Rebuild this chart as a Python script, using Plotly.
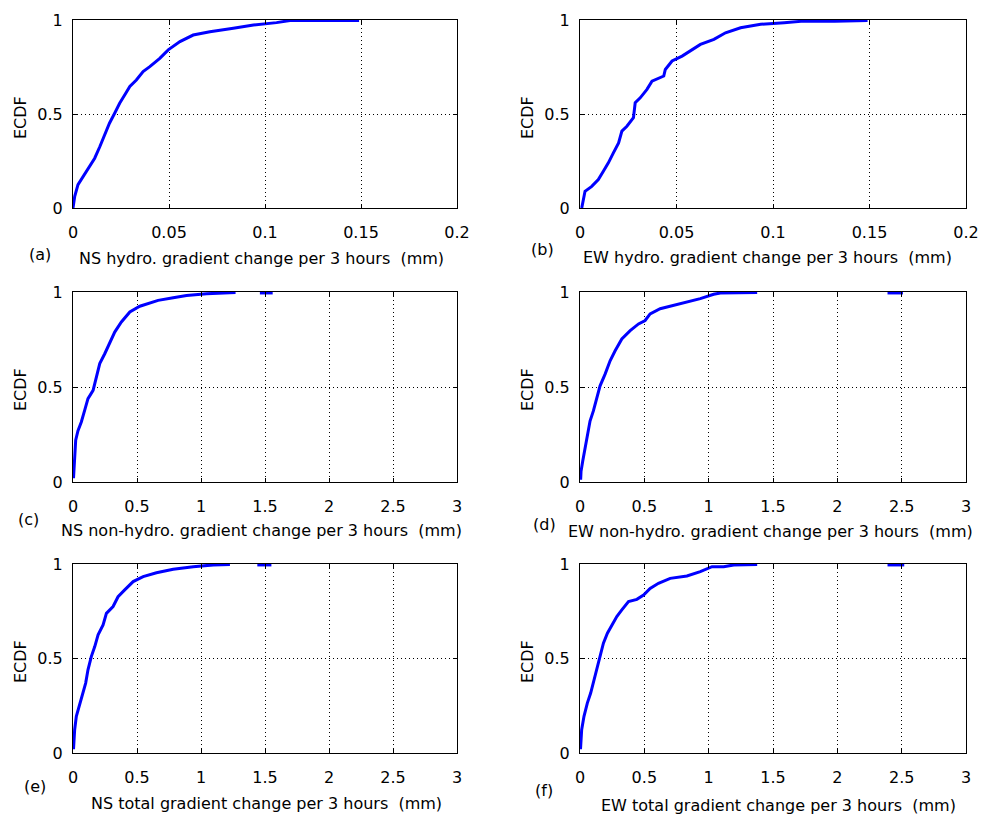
import plotly.graph_objects as go

# ---------------- data ----------------
a_x = [0, 0.0009, 0.0026, 0.0052, 0.0078, 0.0113, 0.014, 0.0165, 0.019, 0.0217, 0.0243, 0.027,
       0.0296, 0.033, 0.0365, 0.04, 0.0452, 0.0496, 0.0557, 0.0626, 0.0713, 0.0835, 0.094, 0.106,
       0.113, 0.122, 0.149]
a_y = [0, 0.062, 0.124, 0.168, 0.212, 0.265, 0.327, 0.389, 0.451, 0.504, 0.557, 0.602,
       0.646, 0.681, 0.726, 0.752, 0.796, 0.841, 0.885, 0.920, 0.938, 0.956, 0.973, 0.986,
       0.997, 0.997, 0.997]

b_x = [0.0009, 0.0017, 0.0026, 0.0061, 0.0095, 0.0121, 0.0147, 0.0173, 0.02, 0.0217, 0.0243,
       0.0277, 0.0286, 0.0312, 0.0347, 0.0373, 0.0434, 0.0442, 0.0477, 0.0529, 0.0581, 0.0624,
       0.0694, 0.0754, 0.0832, 0.0936, 0.1058, 0.1145, 0.132, 0.149]
b_y = [0, 0.044, 0.089, 0.115, 0.151, 0.195, 0.24, 0.293, 0.346, 0.409, 0.435,
       0.48, 0.56, 0.586, 0.631, 0.675, 0.702, 0.737, 0.782, 0.808, 0.844, 0.87,
       0.897, 0.932, 0.959, 0.977, 0.986, 0.993, 0.994, 0.997]

c_x = [0.004, 0.005, 0.013, 0.021, 0.039, 0.065, 0.091, 0.117, 0.157, 0.183, 0.209, 0.248, 0.287,
       0.326, 0.378, 0.444, 0.522, 0.60, 0.665, 0.783, 0.887, 1.044, 1.27, None, 1.46, 1.56]
c_y = [0.02, 0.035, 0.13, 0.22, 0.27, 0.316, 0.377, 0.439, 0.482, 0.553, 0.623, 0.675, 0.737,
       0.789, 0.842, 0.895, 0.925, 0.942, 0.956, 0.97, 0.982, 0.991, 0.997, None, 0.995, 0.995]

d_x = [0.005, 0.008, 0.021, 0.039, 0.057, 0.078, 0.104, 0.13, 0.156, 0.195, 0.234, 0.273, 0.325,
       0.39, 0.455, 0.506, 0.545, 0.623, 0.727, 0.831, 0.935, 1.039, 1.091, 1.377, None, 2.39, 2.51]
d_y = [0.012, 0.056, 0.109, 0.18, 0.25, 0.321, 0.374, 0.444, 0.506, 0.568, 0.638, 0.691, 0.753,
       0.797, 0.832, 0.85, 0.885, 0.912, 0.93, 0.947, 0.965, 0.988, 0.995, 0.997, None, 0.995, 0.995]

e_x = [0.004, 0.005, 0.013, 0.026, 0.052, 0.073, 0.099, 0.117, 0.143, 0.17, 0.196, 0.235, 0.261,
       0.313, 0.352, 0.404, 0.47, 0.548, 0.652, 0.783, 0.939, 1.096, 1.226, None, 1.44, 1.55]
e_y = [0.02, 0.044, 0.123, 0.194, 0.255, 0.317, 0.37, 0.44, 0.51, 0.563, 0.625, 0.678, 0.739,
       0.775, 0.827, 0.863, 0.907, 0.933, 0.954, 0.972, 0.986, 0.995, 0.997, None, 0.995, 0.995]

f_x = [0.004, 0.005, 0.013, 0.031, 0.057, 0.083, 0.109, 0.135, 0.156, 0.182, 0.213, 0.247, 0.286,
       0.325, 0.377, 0.442, 0.494, 0.545, 0.61, 0.701, 0.831, 0.935, 1.026, 1.117, 1.195, 1.377,
       None, 2.39, 2.52]
f_y = [0.02, 0.035, 0.123, 0.194, 0.264, 0.317, 0.387, 0.449, 0.51, 0.581, 0.634, 0.678, 0.722,
       0.757, 0.801, 0.813, 0.836, 0.871, 0.898, 0.924, 0.937, 0.96, 0.986, 0.986, 0.995, 0.997,
       None, 0.995, 0.995]

panel_letters = ["(a)", "(b)", "(c)", "(d)", "(e)", "(f)"]
x_titles = [
    "NS hydro. gradient change per 3 hours  (mm)",
    "EW hydro. gradient change per 3 hours  (mm)",
    "NS non-hydro. gradient change per 3 hours  (mm)",
    "EW non-hydro. gradient change per 3 hours  (mm)",
    "NS total gradient change per 3 hours  (mm)",
    "EW total gradient change per 3 hours  (mm)",
]
y_title = "ECDF"
x_ticks_hydro = [0, 0.05, 0.1, 0.15, 0.2]
x_ticklabels_hydro = ["0", "0.05", "0.1", "0.15", "0.2"]
x_ticks_other = [0, 0.5, 1, 1.5, 2, 2.5, 3]
x_ticklabels_other = ["0", "0.5", "1", "1.5", "2", "2.5", "3"]
y_ticks = [0, 0.5, 1]
y_ticklabels = ["0", "0.5", "1"]

series_x = [a_x, b_x, c_x, d_x, e_x, f_x]
series_y = [a_y, b_y, c_y, d_y, e_y, f_y]

# ---------------- layout ----------------
W, H = 982, 814
FONT = "DejaVu Sans, Liberation Sans, Arial, sans-serif"
FS = 16

col_px = [(73, 457), (580, 966)]
row_px = [(20, 208), (292, 482), (564, 753)]

letter_px = [(40, 254), (542, 249), (28, 519), (544, 524), (35, 786), (544, 790)]
title_px = [(261, 258), (767, 257), (261, 530), (770, 531), (266, 803), (778, 805)]
ecdf_x_px = [20, 527]
ecdf_y_px = [118, 390, 662]

fig = go.Figure()
layout = dict(
    template="none",
    width=W, height=H,
    margin=dict(l=0, r=0, t=0, b=0, pad=0),
    paper_bgcolor="white", plot_bgcolor="white",
    showlegend=False,
    font=dict(family=FONT, size=FS, color="black"),
)
annotations = []

for i in range(6):
    r, c = divmod(i, 2)
    n = i + 1
    xa = "xaxis" if n == 1 else f"xaxis{n}"
    ya = "yaxis" if n == 1 else f"yaxis{n}"
    xref = "x" if n == 1 else f"x{n}"
    yref = "y" if n == 1 else f"y{n}"
    hydro = r == 0
    x0, x1 = col_px[c]
    y0, y1 = row_px[r]
    common = dict(
        showline=True, linecolor="black", linewidth=1, mirror="ticks",
        ticks="inside", ticklen=4, tickcolor="black", tickwidth=1,
        showgrid=True, gridcolor="black", gridwidth=1, griddash="1px,3px",
        zeroline=False, tickfont=dict(family=FONT, size=FS, color="black"),
        fixedrange=True, automargin=False,
    )
    layout[xa] = dict(
        common,
        domain=[x0 / W, x1 / W],
        anchor=yref,
        range=[0, 0.2] if hydro else [0, 3],
        tickmode="array",
        tickvals=x_ticks_hydro if hydro else x_ticks_other,
        ticktext=x_ticklabels_hydro if hydro else x_ticklabels_other,
        ticklabelstandoff=10,
    )
    layout[ya] = dict(
        common,
        domain=[1 - y1 / H, 1 - y0 / H],
        anchor=xref,
        range=[0, 1],
        tickmode="array",
        tickvals=y_ticks, ticktext=y_ticklabels,
        ticklabelstandoff=6,
    )
    fig.add_trace(go.Scatter(
        x=series_x[i], y=series_y[i], mode="lines",
        line=dict(color="#0000FF", width=3),
        xaxis=xref, yaxis=yref, connectgaps=False, hoverinfo="skip",
    ))
    lx, ly = letter_px[i]
    annotations.append(dict(text=panel_letters[i], x=lx / W, y=1 - ly / H,
                            xref="paper", yref="paper", showarrow=False,
                            xanchor="center", yanchor="middle",
                            font=dict(family=FONT, size=FS, color="black")))
    tx, ty = title_px[i]
    annotations.append(dict(text=x_titles[i], x=tx / W, y=1 - ty / H,
                            xref="paper", yref="paper", showarrow=False,
                            xanchor="center", yanchor="middle",
                            font=dict(family=FONT, size=FS, color="black")))
    annotations.append(dict(text=y_title, x=ecdf_x_px[c] / W, y=1 - ecdf_y_px[r] / H,
                            xref="paper", yref="paper", showarrow=False, textangle=-90,
                            xanchor="center", yanchor="middle",
                            font=dict(family=FONT, size=FS, color="black")))

layout["annotations"] = annotations
fig.update_layout(**layout)
fig.write_html(
    "out.html",
    config={"displayModeBar": False},
    post_script="document.body.style.margin='0';document.body.style.overflow='hidden';",
)
